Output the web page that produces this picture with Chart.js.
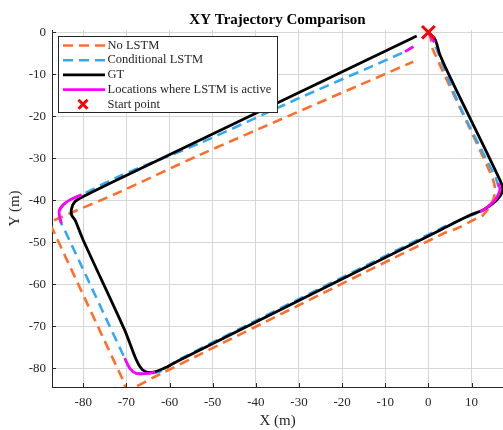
<!DOCTYPE html>
<html>
<head>
<meta charset="utf-8">
<script src="https://cdn.jsdelivr.net/npm/chart.js@4.4.0/dist/chart.umd.min.js"></script>
<style>
  html, body { margin: 0; padding: 0; background: #fff; }
</style>
</head>
<body>
<canvas id="myChart" width="503" height="430"></canvas>
<script>
// Tengely osztások
const xTicks = [-80, -70, -60, -50, -40, -30, -20, -10, 0, 10];
const yTicks = [0, -10, -20, -30, -40, -50, -60, -70, -80];

// GT pálya
const gtX = [0, 1.6, 2.7, 5.7, 16.6, 17.2, 15.9, 12.7, 9.7, 2.7, -57.6, -61.1, -64.2, -66.2, -67.7, -70.4, -80.0, -81.9, -82.7, -82.7, -81.9, -80.0, -71.5, -2.7];
const gtY = [0, -1.8, -5.4, -12.1, -35.2, -37.6, -39.9, -42.3, -43.5, -47.1, -78.0, -79.9, -81.0, -80.4, -78.0, -70.9, -49.5, -44.7, -43.5, -41.9, -40.3, -39.1, -34.8, -0.9];

// Conditional LSTM
const condX = [0, 1.2, 2.3, 5.0, 7.7, 13.5, 15.5, 16.2, 16.6, 15.5, 12.8, 12.0, 9.7, 2.7, -57.6, -62.3, -64.6, -67.7, -69.2, -70.4, -84.3, -85.1, -85.6, -84.7, -83.1, -80.4, -71.5, -53.0, -29.8, -5.4, -3.5];
const condY = [0, -2.3, -5.0, -12.1, -18.5, -30.4, -34.4, -36.4, -37.5, -39.9, -42.3, -42.7, -43.7, -46.8, -77.8, -80.8, -81.2, -81.2, -80.0, -77.6, -47.1, -45.5, -42.7, -41.1, -39.9, -38.7, -34.2, -26.4, -15.6, -4.6, -3.4];

// No LSTM
const noX = [0, 0.5, 1.1, 14.3, 15.4, 15.0, 12.7, 10.4, 6.6, 3.5, -63.4, -69.7, -70.8, -87.0, -87.6, -86.6, -71.5, -53.0, -3.5];
const noY = [0, -1.4, -4.2, -33.3, -36.8, -39.9, -43.5, -44.7, -46.7, -47.9, -82.0, -85.0, -82.8, -47.1, -45.6, -44.7, -38.0, -29.2, -7.0];

// Aktív LSTM szakaszok (null = szakasz vége)
const activeX = [0, 0.6, 1.4, null, 16.2, 16.6, 15.5, 12.8, 12.0, null, -70.4, -69.2, -67.7, -64.6, -63.4, null, -85.1, -85.6, -84.7, -83.1, -80.4, null, -5.4, -3.5];
const activeY = [0, -1.0, -2.4, null, -35.9, -37.5, -39.9, -42.3, -42.7, null, -77.6, -80.0, -81.2, -81.2, -80.8, null, -45.5, -42.7, -41.1, -39.9, -38.7, null, -4.6, -3.4];

// Kezdőpont
const startX = [0];
const startY = [0];

const labels = ['No LSTM', 'Conditional LSTM', 'GT', 'Locations where LSTM is active', 'Start point'];

const textColor = '#262626';
const serif = '"Liberation Serif", "Times New Roman", serif';

function toPoints(xs, ys) {
    return xs.map((x, i) => ({ x: x, y: ys[i] }));
}

// Jelmagyarázat a rajzterületen belül
const legendBox = {
    id: 'legendBox',
    afterDatasetsDraw(chart) {
        const ctx = chart.ctx;
        ctx.save();
        ctx.fillStyle = '#fff';
        ctx.fillRect(58.5, 36.5, 219, 76);
        ctx.strokeStyle = textColor;
        ctx.lineWidth = 1;
        ctx.strokeRect(58.5, 36.5, 219, 76);
        ctx.font = '12.5px ' + serif;
        ctx.textBaseline = 'middle';
        chart.data.datasets.forEach((ds, i) => {
            const y = 45.5 + i * 14.7;
            if (ds.showLine) {
                ctx.strokeStyle = ds.borderColor;
                ctx.lineWidth = ds.borderWidth;
                ctx.setLineDash(ds.borderDash || []);
                ctx.beginPath();
                ctx.moveTo(63, y);
                ctx.lineTo(105, y);
                ctx.stroke();
                ctx.setLineDash([]);
            } else {
                ctx.strokeStyle = ds.pointBorderColor;
                ctx.lineWidth = 3;
                ctx.beginPath();
                ctx.moveTo(78.5, y - 4.5); ctx.lineTo(87.5, y + 4.5);
                ctx.moveTo(87.5, y - 4.5); ctx.lineTo(78.5, y + 4.5);
                ctx.stroke();
            }
            ctx.fillStyle = textColor;
            ctx.fillText(ds.label, 107.5, y);
        });
        ctx.restore();
    }
};

// Befelé mutató osztásjelek
const innerTicks = {
    id: 'innerTicks',
    afterDraw(chart) {
        const ctx = chart.ctx;
        const a = chart.chartArea;
        ctx.save();
        ctx.strokeStyle = textColor;
        ctx.lineWidth = 1;
        ctx.beginPath();
        chart.scales.x.ticks.forEach(t => {
            const px = Math.round(chart.scales.x.getPixelForValue(t.value)) + 0.5;
            ctx.moveTo(px, a.bottom);
            ctx.lineTo(px, a.bottom - 4);
        });
        chart.scales.y.ticks.forEach(t => {
            const py = Math.round(chart.scales.y.getPixelForValue(t.value)) + 0.5;
            ctx.moveTo(a.left, py);
            ctx.lineTo(a.left + 4, py);
        });
        ctx.stroke();
        ctx.restore();
    }
};

const ctx = document.getElementById('myChart').getContext('2d');
const myChart = new Chart(ctx, {
    type: 'scatter',
    data: {
        datasets: [
            {
                label: labels[0],
                data: toPoints(noX, noY),
                showLine: true,
                borderColor: '#FF6F2C',
                borderWidth: 2.6,
                borderDash: [10, 6],
                pointRadius: 0,
                tension: 0.3,
                order: 4
            },
            {
                label: labels[1],
                data: toPoints(condX, condY),
                showLine: true,
                borderColor: '#35A8F2',
                borderWidth: 2.6,
                borderDash: [10, 6],
                pointRadius: 0,
                tension: 0.3,
                order: 3
            },
            {
                label: labels[2],
                data: toPoints(gtX, gtY),
                showLine: true,
                borderColor: '#000000',
                borderWidth: 2.8,
                pointRadius: 0,
                tension: 0.3,
                order: 2
            },
            {
                label: labels[3],
                data: toPoints(activeX, activeY),
                showLine: true,
                spanGaps: false,
                borderColor: '#FF00FF',
                borderWidth: 2.8,
                pointRadius: 0,
                tension: 0.3,
                order: 1
            },
            {
                label: labels[4],
                data: toPoints(startX, startY),
                showLine: false,
                pointStyle: 'crossRot',
                pointRadius: 9,
                pointBorderWidth: 3,
                pointBorderColor: '#FF0000',
                borderColor: '#FF0000',
                clip: false,
                order: 0
            }
        ]
    },
    options: {
        responsive: false,
        animation: false,
        events: [],
        layout: { autoPadding: false, padding: 0 },
        plugins: {
            legend: { display: false },
            tooltip: { enabled: false },
            title: {
                display: true,
                text: 'XY Trajectory Comparison',
                fullSize: false,
                color: '#000',
                font: { family: serif, size: 15, weight: 'bold' },
                padding: { top: 11, bottom: 1 }
            }
        },
        scales: {
            x: {
                type: 'linear',
                min: -87.25,
                max: 17.3,
                afterBuildTicks: s => { s.ticks = xTicks.map(v => ({ value: v })); },
                afterFit: s => { s.height = 43; },
                ticks: {
                    callback: v => String(v),
                    color: textColor,
                    font: { family: serif, size: 13 },
                    padding: 8,
                    maxRotation: 0
                },
                grid: { color: '#d6d6d6', drawTicks: false },
                border: { color: textColor, width: 1 },
                title: {
                    display: true,
                    text: 'X (m)',
                    color: textColor,
                    font: { family: serif, size: 15 },
                    padding: { top: 0, bottom: 0 }
                }
            },
            y: {
                type: 'linear',
                min: -84.45,
                max: 0.55,
                afterBuildTicks: s => { s.ticks = yTicks.map(v => ({ value: v })); },
                afterFit: s => { s.width = 52; },
                ticks: {
                    callback: v => String(v),
                    color: textColor,
                    font: { family: serif, size: 13 },
                    padding: 6
                },
                grid: { color: '#d6d6d6', drawTicks: false },
                border: { color: textColor, width: 1 },
                title: {
                    display: true,
                    text: 'Y (m)',
                    color: textColor,
                    font: { family: serif, size: 15 },
                    padding: { top: 6, bottom: 0 }
                }
            }
        }
    },
    plugins: [legendBox, innerTicks]
});
</script>
</body>
</html>
